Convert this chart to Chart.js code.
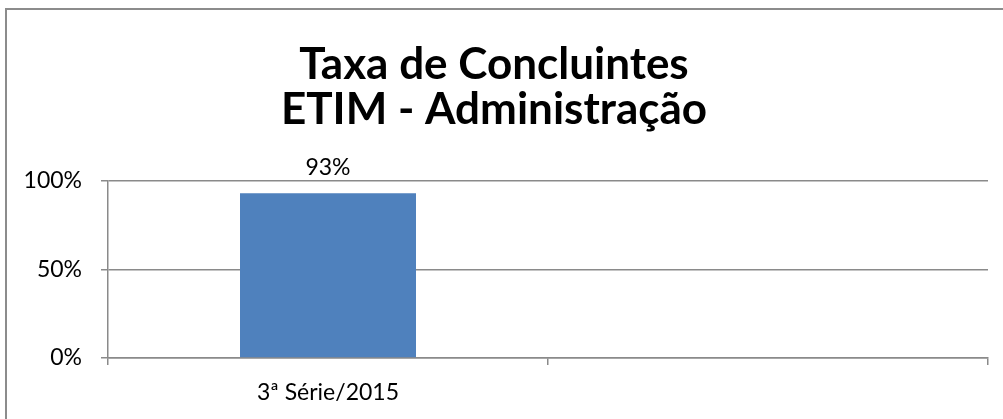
<!DOCTYPE html>
<html>
<head>
<meta charset="utf-8">
<script src="https://cdn.jsdelivr.net/npm/chart.js@4/dist/chart.umd.min.js"></script>
<style>
  html, body { margin: 0; padding: 0; background: #fff; overflow: hidden; }
  #wrap { position: relative; width: 1003px; height: 419px; }
  #frame { position: absolute; left: 5px; top: 8px; width: 1100px; height: 500px; border: 2px solid #8c8c8c; }
  canvas { position: absolute; left: 0; top: 0; }
</style>
</head>
<body>
<div id="wrap">
  <div id="frame"></div>
  <canvas id="chart" width="1003" height="419"></canvas>
</div>
<script>
// chart data
const titleLines = ['Taxa de Concluintes', 'ETIM - Administração'];
const categories = ['3ª Série/2015', ''];
const rates = [93, null];
const yTicks = [0, 50, 100];

const fontFamily = 'Lato, "Noto Sans", sans-serif';
const gridColor = '#8a8a8a';

// draws the value above each bar
const barValueLabels = {
    id: 'barValueLabels',
    afterDatasetsDraw(chart) {
        const ctx = chart.ctx;
        ctx.save();
        ctx.font = '23px ' + fontFamily;
        ctx.fillStyle = '#000';
        ctx.textAlign = 'center';
        ctx.textBaseline = 'middle';
        chart.getDatasetMeta(0).data.forEach((bar, i) => {
            const v = chart.data.datasets[0].data[i];
            if (v == null) return;
            ctx.fillText(v + '%', bar.x, bar.y - 26);
        });
        ctx.restore();
    }
};

new Chart(document.getElementById('chart').getContext('2d'), {
    type: 'bar',
    data: {
        labels: categories,
        datasets: [{ data: rates, backgroundColor: '#4f81bd', borderWidth: 0, barPercentage: 0.8, categoryPercentage: 0.5 }]
    },
    options: {
        responsive: false,
        animation: false,
        layout: { padding: { left: 0, right: 15, top: 0, bottom: 0 } },
        plugins: {
            legend: { display: false },
            tooltip: { enabled: false },
            title: {
                display: true,
                text: titleLines,
                color: '#000',
                font: { family: fontFamily, size: 44, weight: 'bold', lineHeight: 1.02 },
                padding: { top: 42, bottom: 49 }
            }
        },
        scales: {
            x: {
                offset: true,
                grid: { offset: true, drawOnChartArea: false, color: gridColor, lineWidth: 1.5, tickLength: 7 },
                border: { color: gridColor, width: 1.5 },
                ticks: { color: '#000', padding: 14, font: { family: fontFamily, size: 23 }, maxRotation: 0 },
                afterFit(scale) { scale.height = 61; }
            },
            y: {
                min: 0,
                max: 100,
                afterBuildTicks(scale) { scale.ticks = yTicks.map(v => ({ value: v })); },
                grid: { color: gridColor, lineWidth: 1.5, tickLength: 7 },
                border: { color: gridColor, width: 1.5 },
                ticks: { color: '#000', padding: 19, font: { family: fontFamily, size: 23 }, callback: v => v + '%' },
                afterFit(scale) { scale.width = 108; }
            }
        }
    },
    plugins: [barValueLabels]
});
</script>
</body>
</html>
